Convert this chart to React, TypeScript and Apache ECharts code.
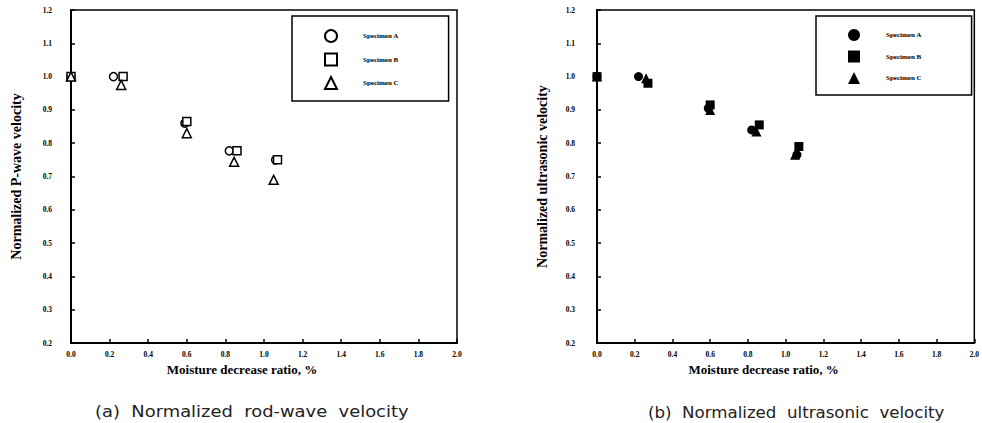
import React, { useEffect, useRef } from "react";
import * as echarts from "echarts";

const xTicksMin = 0;
const xTicksMax = 2;
const xInterval = 0.2;
const yTicksMin = 0.2;
const yTicksMax = 1.2;
const yInterval = 0.1;

const specimenNames = ["Specimen A", "Specimen B", "Specimen C"];

const moistureA = [0, 0.22, 0.59, 0.82, 1.06];
const moistureB = [0, 0.27, 0.6, 0.86, 1.07];
const moistureC = [0, 0.26, 0.6, 0.845, 1.05];

const pWaveA = [1.0, 1.0, 0.86, 0.777, 0.75];
const pWaveB = [1.0, 1.0, 0.865, 0.777, 0.75];
const pWaveC = [1.0, 0.975, 0.83, 0.744, 0.69];

const ultraA = [1.0, 1.0, 0.905, 0.84, 0.765];
const ultraB = [1.0, 0.98, 0.915, 0.855, 0.79];
const ultraC = [1.0, 0.995, 0.9, 0.835, 0.765];

const symbols = ["circle", "rect", "triangle"];

const pair = (xs: number[], ys: number[]) => xs.map((x, i) => [x, ys[i]]);

export default function App() {
  const ref = useRef<HTMLDivElement>(null);
  useEffect(() => {
    if (!ref.current) return;
    const chart = echarts.init(ref.current, null, { renderer: "svg" });
    const serif = "Liberation Serif";
    const tickFont = { fontFamily: serif, fontWeight: "bold" as const, fontSize: 7.5, color: "#000" };
    const mkX = (gi: number) => ({
      type: "value",
      gridIndex: gi,
      min: xTicksMin,
      max: xTicksMax,
      interval: xInterval,
      name: "Moisture decrease ratio, %",
      nameLocation: "middle",
      nameGap: 13,
      nameTextStyle: { fontFamily: serif, fontWeight: "bold", fontSize: 13, color: "#000", padding: [0, 44, 0, 0] },
      axisLine: { show: true, onZero: false, lineStyle: { color: "#000", width: 2 } },
      axisTick: { show: true, inside: true, length: 4, lineStyle: { color: "#000", width: 1.5 } },
      axisLabel: { ...tickFont, margin: 7, formatter: (v: number) => v.toFixed(1) },
      splitLine: { show: false },
    });
    const mkY = (gi: number, name: string, margin: number) => ({
      type: "value",
      gridIndex: gi,
      min: yTicksMin,
      max: yTicksMax,
      interval: yInterval,
      name,
      nameLocation: "middle",
      nameGap: 48,
      nameTextStyle: { fontFamily: serif, fontWeight: "bold", fontSize: 14, color: "#000" },
      axisLine: { show: true, onZero: false, lineStyle: { color: "#000", width: 2 } },
      axisTick: { show: true, inside: true, length: 4, lineStyle: { color: "#000", width: 1.5 } },
      axisLabel: { ...tickFont, margin, formatter: (v: number) => v.toFixed(1) },
      splitLine: { show: false },
    });
    const leftXs = [moistureA, moistureB, moistureC];
    const pY = [pWaveA, pWaveB, pWaveC];
    const uY = [ultraA, ultraB, ultraC];
    const series: any[] = [];
    for (let i = 0; i < 3; i++) {
      series.push({
        type: "scatter",
        name: specimenNames[i] + " (a)",
        xAxisIndex: 0,
        yAxisIndex: 0,
        symbol: symbols[i],
        symbolSize: i === 2 ? 9 : 8,
        itemStyle: { color: "#fff", borderColor: "#000", borderWidth: 1.5, opacity: 1 },
        data: pair(leftXs[i], pY[i]),
      });
    }
    for (let i = 0; i < 3; i++) {
      series.push({
        type: "scatter",
        name: specimenNames[i] + " (b)",
        xAxisIndex: 1,
        yAxisIndex: 1,
        symbol: symbols[i],
        symbolSize: i === 2 ? 10 : 9,
        itemStyle: { color: "#000", borderColor: "#000", borderWidth: 0, opacity: 1 },
        data: pair(leftXs[i], uY[i]),
      });
    }
    const mkLegend = (left: number, suffix: string) => ({
      orient: "vertical",
      left,
      top: 16,
      width: 154,
      padding: [13, 50, 11, 32],
      itemGap: 9.5,
      itemWidth: 12,
      itemHeight: 12,
      borderColor: "#000",
      borderWidth: 1.5,
      backgroundColor: "#fff",
      selectedMode: false,
      data: specimenNames.map((n) => n + suffix),
      formatter: (n: string) => n.replace(suffix, ""),
      textStyle: { fontFamily: serif, fontWeight: "bold", fontSize: 7, color: "#000", padding: [0, 0, 0, 21] },
    });
    chart.setOption({
      animation: false,
      backgroundColor: "#fff",
      grid: [
        { left: 71, top: 10, width: 386, height: 333, show: true, borderColor: "#000", borderWidth: 1.5, backgroundColor: "transparent" },
        { left: 597, top: 10, width: 380, height: 333, show: true, borderColor: "#000", borderWidth: 1.5, backgroundColor: "transparent" },
      ],
      xAxis: [mkX(0), mkX(1)],
      yAxis: [mkY(0, "Normalized P-wave velocity", 19), mkY(1, "Normalized ultrasonic velocity", 22)],
      legend: [mkLegend(292, " (a)"), mkLegend(816, " (b)")],
      series,
      graphic: [
        {
          type: "text",
          x: 95,
          y: 403,
          scaleX: 1.12,
          style: { text: "(a)  Normalized  rod-wave  velocity", fontFamily: "DejaVu Sans", fontSize: 16, fill: "#222" },
        },
        {
          type: "text",
          x: 648,
          y: 405,
          scaleX: 1.04,
          style: { text: "(b)  Normalized  ultrasonic  velocity", fontFamily: "DejaVu Sans", fontSize: 16, fill: "#222" },
        },
      ],
    });
    return () => chart.dispose();
  }, []);
  return <div ref={ref} style={{ position: "fixed", left: 0, top: 0, width: 982, height: 423 }} />;
}
